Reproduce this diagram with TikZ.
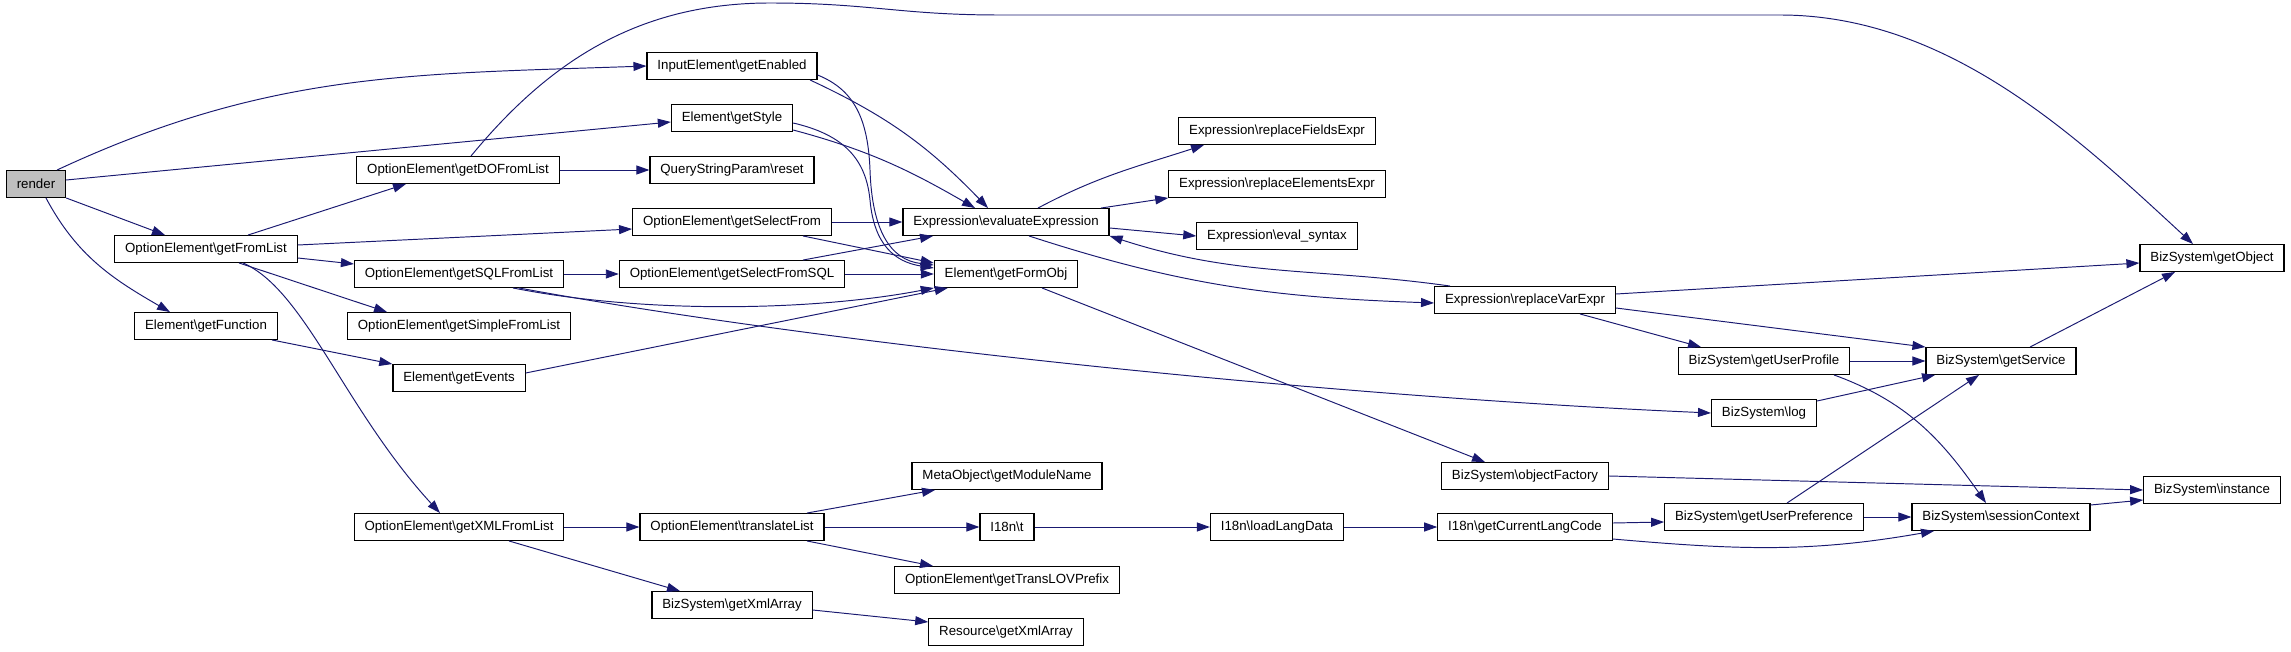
\documentclass[tikz,border=0pt]{standalone}
\usepackage{fontspec}
\setmainfont{Liberation Sans}
\usepackage{tikz}
\usetikzlibrary{arrows.meta}
\definecolor{callblue}{HTML}{191970}
\newcommand{\bsl}{\textbackslash}

\begin{document}
\begin{tikzpicture}[x=0.02cm,y=-0.02cm,
  fn/.style={draw,fill=white,line width=0.7pt,minimum height=0.534cm,inner xsep=5.9pt,inner ysep=0pt,font=\fontsize{7.56}{9}\selectfont},
  root/.style={fn,fill=black!25},
  call/.style={draw=callblue,line width=0.55pt,-{Triangle[length=0.26cm,width=0.18cm]}}]
\useasboundingbox (0,0) rectangle (2291,652);
\node (render) at (36,184) [root] {render};
\node (getFromList) at (206,249) [fn] {OptionElement\bsl getFromList};
\node (getFunction) at (206,326) [fn] {Element\bsl getFunction};
\node (getDOFromList) at (458,170) [fn] {OptionElement\bsl getDOFromList};
\node (getSQLFromList) at (459,274) [fn] {OptionElement\bsl getSQLFromList};
\node (getSimpleFromList) at (459,326) [fn] {OptionElement\bsl getSimpleFromList};
\node (getEvents) at (459,378) [fn] {Element\bsl getEvents};
\node (getXMLFromList) at (459,527) [fn] {OptionElement\bsl getXMLFromList};
\node (getEnabled) at (732,66) [fn] {InputElement\bsl getEnabled};
\node (getStyle) at (732,118) [fn] {Element\bsl getStyle};
\node (reset) at (732,170) [fn] {QueryStringParam\bsl reset};
\node (getSelectFrom) at (732,222) [fn] {OptionElement\bsl getSelectFrom};
\node (getSelectFromSQL) at (732,274) [fn] {OptionElement\bsl getSelectFromSQL};
\node (translateList) at (732,527) [fn] {OptionElement\bsl translateList};
\node (bizXmlArray) at (732,605) [fn] {BizSystem\bsl getXmlArray};
\node (evalExpr) at (1006,222) [fn] {Expression\bsl evaluateExpression};
\node (getFormObj) at (1006,274) [fn] {Element\bsl getFormObj};
\node (moduleName) at (1007,476) [fn] {MetaObject\bsl getModuleName};
\node (i18nT) at (1007,527) [fn] {I18n\bsl t};
\node (transLOV) at (1007,580) [fn] {OptionElement\bsl getTransLOVPrefix};
\node (resXmlArray) at (1006,632) [fn] {Resource\bsl getXmlArray};
\node (replFields) at (1277,131) [fn] {Expression\bsl replaceFieldsExpr};
\node (replElems) at (1277,184) [fn] {Expression\bsl replaceElementsExpr};
\node (evalSyntax) at (1277,236) [fn] {Expression\bsl eval\_syntax};
\node (loadLangData) at (1277,527) [fn] {I18n\bsl loadLangData};
\node (replVar) at (1525,300) [fn] {Expression\bsl replaceVarExpr};
\node (objectFactory) at (1525,476) [fn] {BizSystem\bsl objectFactory};
\node (curLangCode) at (1525,527) [fn] {I18n\bsl getCurrentLangCode};
\node (userProfile) at (1764,361) [fn] {BizSystem\bsl getUserProfile};
\node (log) at (1764,413) [fn] {BizSystem\bsl log};
\node (userPref) at (1764,517) [fn] {BizSystem\bsl getUserPreference};
\node (getService) at (2001,361) [fn] {BizSystem\bsl getService};
\node (sessionContext) at (2001,517) [fn] {BizSystem\bsl sessionContext};
\node (getObject) at (2212,258) [fn] {BizSystem\bsl getObject};
\node (instance) at (2212,490) [fn] {BizSystem\bsl instance};
\draw[call] ([xshift=0.42cm]render.north) to[out=25,in=182] (getEnabled.west);
\draw[call] ([yshift=0.08cm]render.east) -- ([yshift=-0.08cm]getStyle.west);
\draw[call] (render.south east) -- ([xshift=-0.82cm]getFromList.north);
\draw[call] ([xshift=0.2cm]render.south) to[out=-62,in=150] ([xshift=-0.72cm]getFunction.north);
\draw[call] ([xshift=0.84cm]getFromList.north) -- ([xshift=-1.04cm]getDOFromList.south);
\draw[call] ([yshift=0.08cm]getFromList.east) -- ([yshift=-0.14cm]getSelectFrom.west);
\draw[call] ([yshift=-0.18cm]getFromList.east) -- ([yshift=0.2cm]getSQLFromList.west);
\draw[call] ([xshift=0.66cm]getFromList.south) -- ([xshift=-1.44cm]getSimpleFromList.north);
\draw[call] ([xshift=0.74cm]getFromList.south) .. controls (305,290) and (345,410) .. ([xshift=-0.38cm]getXMLFromList.north);
\draw[call] (getDOFromList.east) -- (reset.west);
\draw[call] ([xshift=0.26cm]getDOFromList.north) .. controls (550,60) and (640,3) .. (770,3) .. controls (870,3) and (900,15) .. (1000,15) -- (1780,15) .. controls (1950,15) and (2080,140) .. ([xshift=-0.38cm]getObject.north);
\draw[call] (getSQLFromList.east) -- (getSelectFromSQL.west);
\draw[call] ([xshift=1.08cm]getSQLFromList.south) .. controls (650,315) and (820,310) .. (getFormObj.south west);
\draw[call] ([xshift=1.2cm]getSQLFromList.south) .. controls (800,340) and (1300,395) .. (log.west);
\draw[call] ([xshift=-0.12cm]getFunction.south east) -- (getEvents.north west);
\draw[call] ([yshift=0.1cm]getEvents.east) -- ([xshift=0.28cm]getFormObj.south west);
\draw[call] (getXMLFromList.east) -- (translateList.west);
\draw[call] ([xshift=1.0cm]getXMLFromList.south) -- ([xshift=-1.04cm]bizXmlArray.north);
\draw[call] ([xshift=1.5cm]translateList.north) -- ([xshift=-1.44cm]moduleName.south);
\draw[call] (translateList.east) -- (i18nT.west);
\draw[call] ([xshift=1.5cm]translateList.south) -- ([xshift=-1.48cm]transLOV.north);
\draw[call] (i18nT.east) -- (loadLangData.west);
\draw[call] (loadLangData.east) -- (curLangCode.west);
\draw[call] ([yshift=-0.1cm]bizXmlArray.east) -- ([yshift=0.2cm]resXmlArray.west);
\draw[call] ([xshift=1.56cm]getEnabled.south) to[out=-25,in=134] ([xshift=-0.36cm]evalExpr.north);
\draw[call] ([yshift=-0.18cm]getEnabled.east) .. controls (855,90) and (868,120) .. (870,170) .. controls (872,230) and (890,260) .. ([yshift=0.18cm]getFormObj.west);
\draw[call] ([yshift=-0.24cm]getStyle.east) to[out=-15,in=150] ([xshift=-0.62cm]evalExpr.north);
\draw[call] ([yshift=-0.1cm]getStyle.east) .. controls (845,135) and (866,160) .. (870,200) .. controls (874,245) and (895,262) .. ([yshift=0.12cm]getFormObj.west);
\draw[call] (getSelectFrom.east) -- (evalExpr.west);
\draw[call] ([xshift=1.42cm]getSelectFrom.south) -- ([yshift=0.22cm]getFormObj.west);
\draw[call] ([xshift=1.42cm]getSelectFromSQL.north) -- ([xshift=-1.46cm]evalExpr.south);
\draw[call] (getSelectFromSQL.east) -- (getFormObj.west);
\draw[call] ([xshift=0.64cm]evalExpr.north) to[out=28,in=198] ([xshift=-1.46cm]replFields.south);
\draw[call] ([xshift=1.9cm]evalExpr.north) -- (replElems.south west);
\draw[call] ([yshift=-0.12cm]evalExpr.east) -- (evalSyntax.west);
\draw[call] ([xshift=0.46cm]evalExpr.south) to[out=-18,in=178] ([yshift=-0.06cm]replVar.west);
\draw[call] ([xshift=-1.5cm]replVar.north) to[out=172,in=-18] (evalExpr.south east);
\draw[call] ([xshift=0.72cm]getFormObj.south) -- ([xshift=-0.8cm]objectFactory.north);
\draw[call] ([yshift=0.12cm]replVar.east) -- ([yshift=-0.1cm]getObject.west);
\draw[call] ([yshift=-0.16cm]replVar.east) -- (getService.north west);
\draw[call] ([xshift=1.1cm]replVar.south) -- ([xshift=-1.26cm]userProfile.north);
\draw[call] (userProfile.east) -- (getService.west);
\draw[call] ([xshift=1.4cm]userProfile.south) to[out=-20,in=125] ([xshift=-0.3cm]sessionContext.north);
\draw[call] ([yshift=0.24cm]log.east) -- ([xshift=-1.32cm]getService.south);
\draw[call] ([xshift=0.58cm]getService.north) -- ([xshift=-0.74cm]getObject.south);
\draw[call] (objectFactory.east) -- (instance.west);
\draw[call] ([xshift=0.46cm]userPref.north) -- ([xshift=-0.44cm]getService.south);
\draw[call] (userPref.east) -- (sessionContext.west);
\draw[call] ([yshift=0.24cm]sessionContext.east) -- ([yshift=-0.2cm]instance.west);
\draw[call] ([yshift=0.08cm]curLangCode.east) -- ([yshift=-0.1cm]userPref.west);
\draw[call] ([yshift=-0.24cm]curLangCode.east) to[out=-5,in=190] ([xshift=-1.34cm]sessionContext.south);
\end{tikzpicture}
\end{document}
